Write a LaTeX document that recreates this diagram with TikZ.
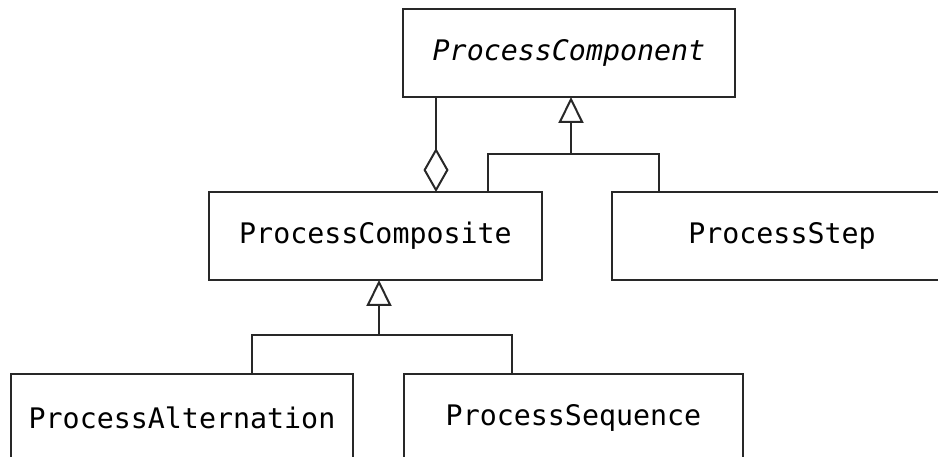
\documentclass[tikz,border=0pt]{standalone}
\usepackage{fontspec}
\setmonofont{DejaVu Sans Mono}
\usetikzlibrary{arrows.meta}
\definecolor{lc}{RGB}{40,40,40}
\begin{document}
\begin{tikzpicture}[x=1pt,y=-1pt,
  cls/.style={draw=lc, line width=2pt, inner sep=0pt, outer sep=0pt,
    minimum height=88pt, font=\fontsize{28.3}{34}\selectfont\ttfamily, text=black},
  conn/.style={draw=lc, line width=2pt},
  gen/.style={-{Triangle[open,width=25pt,length=26pt]}},
  agr/.style={-{Diamond[open,width=25pt,length=44pt]}}]
\useasboundingbox (0,0) rectangle (938,457);
\clip (0,0) rectangle (938,457);
\fill[white] (0,0) rectangle (938,457);
\node[cls, minimum width=332pt] (component) at (569,53) {\itshape ProcessComponent};
\node[cls, minimum width=333pt] (composite) at (375.5,236) {ProcessComposite};
\node[cls, minimum width=340pt] (step) at (782,236) {ProcessStep};
\node[cls, minimum width=342pt] (alternation) at (182,418) {ProcessAlternation};
\node[cls, minimum width=339pt] (sequence) at (573.5,418) {ProcessSequence};
% aggregation
\coordinate (agg) at ([xshift=33pt]component.south west);
\draw[conn, agr] (agg) -- (agg |- composite.north);
% generalization top
\coordinate (g1) at (571,154);
\draw[conn, gen] (g1) -- (g1 |- component.south);
\draw[conn] ([xshift=112.5pt]composite.north) |- (g1) -| ([xshift=-123pt]step.north);
% generalization bottom
\coordinate (g2) at (379,335);
\draw[conn, gen] (g2) -- (g2 |- composite.south);
\draw[conn] ([xshift=70pt]alternation.north) |- (g2) -| ([xshift=-61.5pt]sequence.north);
\end{tikzpicture}
\end{document}
